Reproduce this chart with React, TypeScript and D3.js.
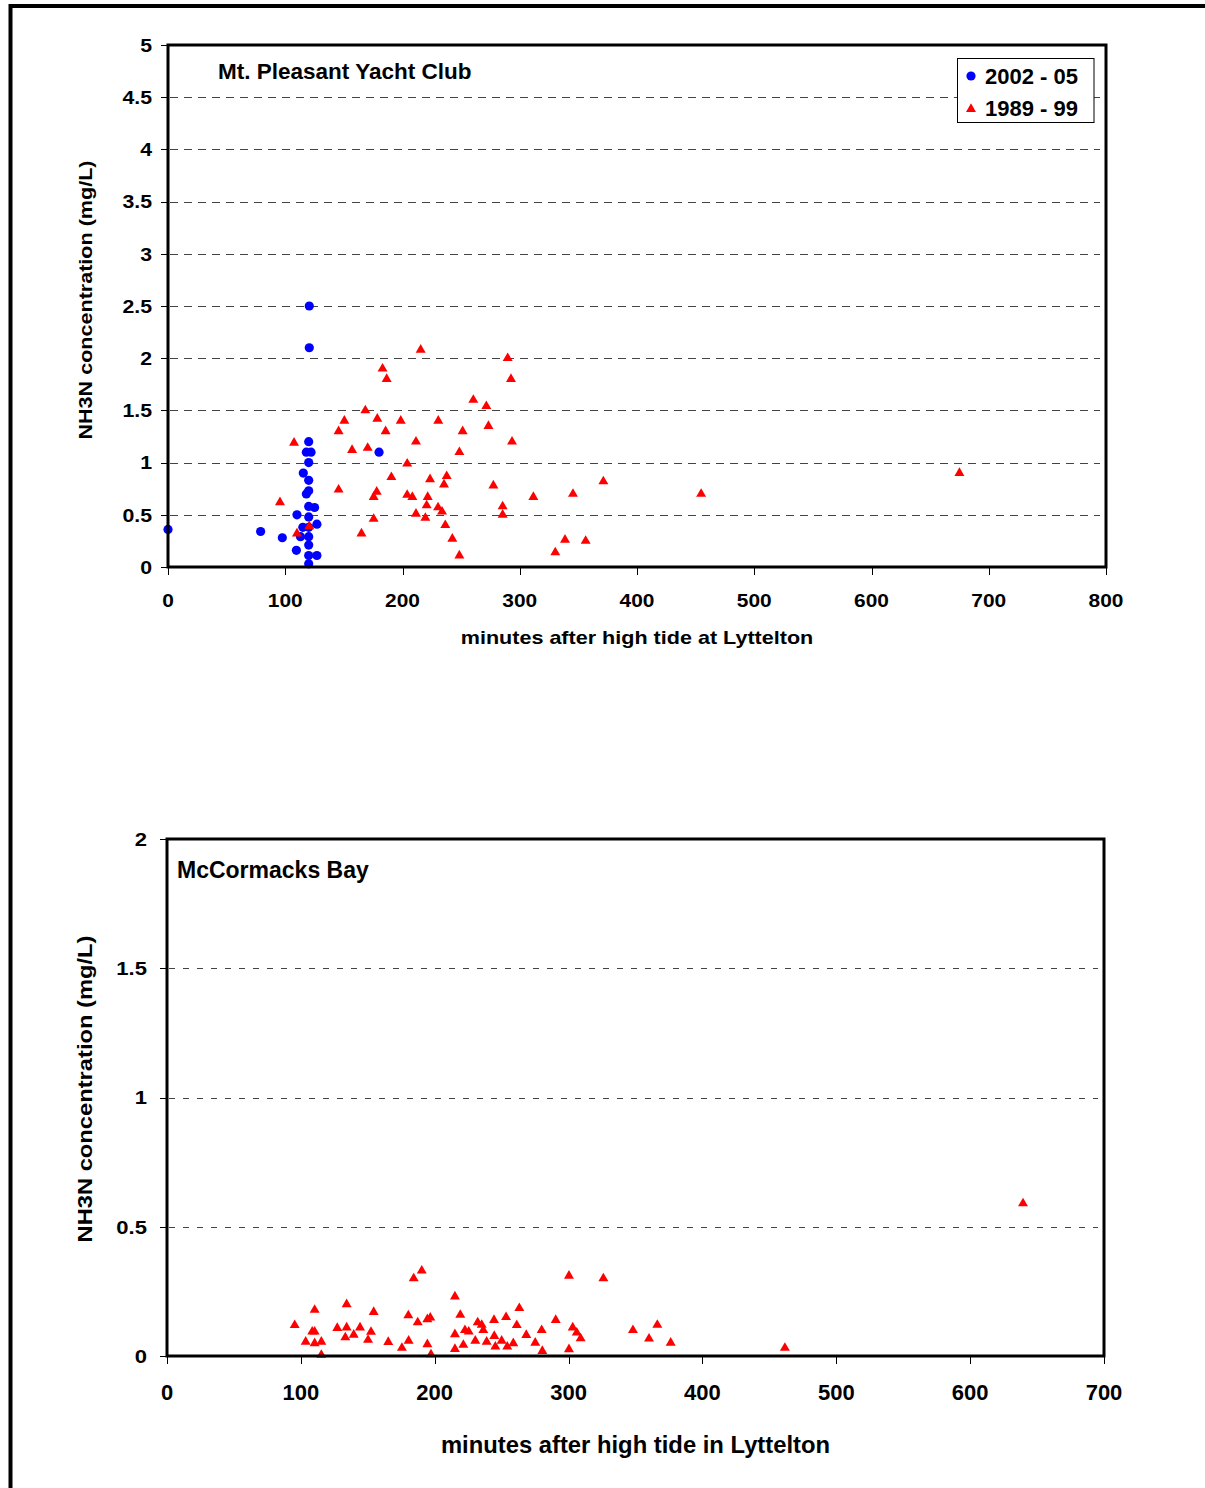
import React from 'react';
import * as d3 from 'd3';

const W = 1205;
const H = 1488;
const FONT = '"Liberation Sans", Arial, sans-serif';

// Mt. Pleasant Yacht Club, 2002 - 05 samples
const mpRecentMinutes = [0, 79, 97.5, 110, 109.5, 113, 120, 115.4, 118, 122, 120.5, 120.5, 120, 120, 120, 118, 120, 120, 125, 120, 127, 115, 120, 120, 120, 127, 120, 180];
const mpRecentConc = [0.36, 0.34, 0.28, 0.5, 0.16, 0.29, 0.29, 0.9, 1.1, 1.1, 2.5, 2.1, 1.2, 1.0, 0.83, 0.7, 0.73, 0.58, 0.57, 0.48, 0.41, 0.38, 0.38, 0.21, 0.11, 0.11, 0.03, 1.1];

// Mt. Pleasant Yacht Club, 1989 - 99 samples
const mpOldMinutes = [107.5, 95.5, 110, 120.5, 145.5, 150.4, 145.5, 157, 168.3, 170.3, 178.5, 183, 186.5, 185.6, 198.5, 165, 175.4, 175.4, 178, 190.5, 204, 204, 215.5, 289.7, 292.5, 260.4, 271.5, 230.5, 251.3, 273.3, 211.5, 293.4, 248.5, 223.5, 237.7, 235.4, 208.4, 221.5, 220.6, 230.3, 233.7, 211.5, 219.5, 236.5, 242.5, 248.5, 277.5, 285.4, 285.4, 311.6, 345.4, 371.3, 330.3, 338.6, 356.2, 454.7, 675];
const mpOldConc = [1.19, 0.62, 0.32, 0.39, 1.3, 1.4, 0.74, 1.12, 1.5, 1.14, 1.42, 1.9, 1.8, 1.3, 1.4, 0.32, 0.46, 0.67, 0.72, 0.86, 0.99, 0.69, 2.08, 2.0, 1.8, 1.6, 1.54, 1.4, 1.3, 1.35, 1.2, 1.2, 1.1, 0.84, 0.87, 0.79, 0.67, 0.67, 0.59, 0.57, 0.53, 0.51, 0.47, 0.4, 0.27, 0.11, 0.78, 0.58, 0.5, 0.67, 0.7, 0.82, 0.14, 0.26, 0.25, 0.7, 0.9];

// McCormacks Bay, 1989 - 99 samples
const mcMinutes = [95.4, 110.3, 103.6, 108.5, 110.3, 110.3, 115.3, 115.3, 127.2, 134.2, 134.2, 133.2, 139.5, 144.2, 152.4, 150.2, 154.4, 165.3, 175.5, 180.3, 180.5, 184.3, 190.3, 187.3, 194.5, 196.7, 194.5, 197.2, 215.1, 219.1, 215.1, 222.6, 225.4, 215.1, 221.4, 230.3, 232.1, 235.1, 236.3, 238.8, 244.3, 244.5, 250, 245.3, 253.3, 254.2, 258.7, 263.2, 261.3, 268.4, 275.1, 279.9, 280.4, 290.4, 300.3, 300.3, 303.1, 306.1, 309, 326, 348.1, 366.3, 360.1, 376.3, 461.6, 639.5];
const mcConc = [0.119, 0.178, 0.055, 0.094, 0.094, 0.049, 0.055, 0.004, 0.108, 0.2, 0.11, 0.072, 0.082, 0.11, 0.093, 0.062, 0.17, 0.054, 0.031, 0.157, 0.059, 0.3, 0.33, 0.13, 0.142, 0.148, 0.045, 0.006, 0.23, 0.159, 0.084, 0.1, 0.094, 0.027, 0.043, 0.059, 0.13, 0.12, 0.1, 0.055, 0.139, 0.077, 0.059, 0.036, 0.15, 0.036, 0.049, 0.185, 0.119, 0.081, 0.051, 0.1, 0.019, 0.139, 0.31, 0.026, 0.11, 0.09, 0.068, 0.3, 0.1, 0.12, 0.067, 0.051, 0.031, 0.59];

const topXTicks = [0, 100, 200, 300, 400, 500, 600, 700, 800];
const topYTicks = [0, 0.5, 1, 1.5, 2, 2.5, 3, 3.5, 4, 4.5, 5];
const bottomXTicks = [0, 100, 200, 300, 400, 500, 600, 700];
const bottomYTicks = [0, 0.5, 1, 1.5, 2];

const legendLabels = ['2002 - 05', '1989 - 99'];

const circlePath = d3.symbol(d3.symbolCircle, Math.PI * 4.6 * 4.6)();
const trianglePath = d3.symbol(d3.symbolTriangle, 43)();

// stretched bold text, the original chart had its fonts squeezed wider
function SText({ x, y, size, sx = 1, rotate = 0, anchor = 'start', children }) {
  return (
    <text
      transform={`translate(${x},${y}) rotate(${rotate}) scale(${sx},1)`}
      fontSize={size}
      fontWeight="bold"
      fontFamily={FONT}
      textAnchor={anchor}
      fill="#000"
    >
      {children}
    </text>
  );
}

function Panel({ box, xMax, yMax, xTicks, yTicks, dash, series, text }) {
  const xScale = d3.scaleLinear().domain([0, xMax]).range([box.left, box.right]);
  const yScale = d3.scaleLinear().domain([0, yMax]).range([box.bottom, box.top]);
  const midX = (box.left + box.right) / 2;

  return (
    <g>
      {/* dashed gridlines */}
      {yTicks.filter((t) => t > 0 && t < yMax).map((t) => (
        <line
          key={'g' + t}
          x1={box.left + 2}
          x2={box.right - 6}
          y1={Math.round(yScale(t)) + 0.5}
          y2={Math.round(yScale(t)) + 0.5}
          stroke="#444"
          strokeWidth={1}
          strokeDasharray={dash}
        />
      ))}

      {/* tick marks */}
      {yTicks.map((t) => (
        <line key={'yt' + t} x1={box.left - 7} x2={box.left} y1={Math.round(yScale(t)) + 0.5} y2={Math.round(yScale(t)) + 0.5} stroke="#000" />
      ))}
      {xTicks.map((t) => (
        <line key={'xt' + t} x1={Math.round(xScale(t)) + 0.5} x2={Math.round(xScale(t)) + 0.5} y1={box.bottom} y2={box.bottom + 8} stroke="#000" />
      ))}

      {/* tick labels */}
      {yTicks.map((t) => (
        <SText key={'yl' + t} x={box.left - text.yLabelGap} y={yScale(t) + text.yLabelSize * 0.36} size={text.yLabelSize} sx={text.yLabelSx} anchor="end">
          {String(t)}
        </SText>
      ))}
      {xTicks.map((t) => (
        <SText key={'xl' + t} x={xScale(t)} y={box.bottom + text.xLabelGap} size={text.xLabelSize} sx={text.xLabelSx} anchor="middle">
          {String(t)}
        </SText>
      ))}

      {/* markers, older series drawn last */}
      {series.map((s, si) => (
        <g key={'s' + si} fill={s.color}>
          {s.minutes.map((m, i) => (
            <path key={i} d={s.shape} transform={`translate(${xScale(m)},${yScale(s.conc[i])})`} />
          ))}
        </g>
      ))}

      {/* plot frame */}
      <rect
        x={box.left}
        y={box.top}
        width={box.right - box.left}
        height={box.bottom - box.top}
        fill="none"
        stroke="#000"
        strokeWidth={3}
      />

      {/* titles */}
      <SText x={text.titleX} y={text.titleY} size={text.titleSize}>{text.title}</SText>
      <SText x={midX} y={text.xTitleY} size={text.xTitleSize} sx={text.xTitleSx} anchor="middle">
        {text.xTitle}
      </SText>
      <SText x={text.yTitleX} y={text.yTitleY} size={text.yTitleSize} sx={text.yTitleSx} rotate={-90} anchor="middle">
        NH3N concentration (mg/L)
      </SText>
    </g>
  );
}

export default function App() {
  const blue = '#0000ff';
  const red = '#ff0000';

  return (
    <svg
      width={W}
      height={H}
      viewBox={`0 0 ${W} ${H}`}
      style={{ position: 'absolute', left: 0, top: 0, background: '#fff' }}
    >
      <rect x={0} y={0} width={W} height={H} fill="#fff" />

      {/* outer frame, cut off at right and bottom */}
      <path d={`M10.5,${H} V6 H${W}`} fill="none" stroke="#000" strokeWidth={4} />

      <Panel
        box={{ left: 168, right: 1106, top: 45, bottom: 567 }}
        xMax={800}
        yMax={5}
        xTicks={topXTicks}
        yTicks={topYTicks}
        dash="8,6"
        series={[
          { minutes: mpRecentMinutes, conc: mpRecentConc, color: blue, shape: circlePath },
          { minutes: mpOldMinutes, conc: mpOldConc, color: red, shape: trianglePath },
        ]}
        text={{
          yLabelGap: 16, yLabelSize: 19, yLabelSx: 1.12,
          xLabelGap: 40, xLabelSize: 19, xLabelSx: 1.1,
          title: 'Mt. Pleasant Yacht Club', titleX: 218, titleY: 79, titleSize: 22.5,
          xTitle: 'minutes after high tide at Lyttelton', xTitleY: 644, xTitleSize: 18.6, xTitleSx: 1.16,
          yTitleX: 92, yTitleY: 300, yTitleSize: 18.6, yTitleSx: 1.16,
        }}
      />

      {/* legend */}
      <g>
        <rect x={957.5} y={58.5} width={136.5} height={64} fill="#fff" stroke="#000" strokeWidth={1} />
        <path d={circlePath} transform="translate(971,76)" fill={blue} />
        <path d={trianglePath} transform="translate(971,109)" fill={red} />
        <SText x={985} y={84} size={22}>{legendLabels[0]}</SText>
        <SText x={985} y={116} size={22}>{legendLabels[1]}</SText>
      </g>

      <Panel
        box={{ left: 167, right: 1104, top: 839, bottom: 1356 }}
        xMax={700}
        yMax={2}
        xTicks={bottomXTicks}
        yTicks={bottomYTicks}
        dash="6,8"
        series={[{ minutes: mcMinutes, conc: mcConc, color: red, shape: trianglePath }]}
        text={{
          yLabelGap: 20, yLabelSize: 19, yLabelSx: 1.16,
          xLabelGap: 44, xLabelSize: 22, xLabelSx: 1,
          title: 'McCormacks Bay', titleX: 177, titleY: 878, titleSize: 23,
          xTitle: 'minutes after high tide in Lyttelton', xTitleY: 1453, xTitleSize: 23.8, xTitleSx: 1,
          yTitleX: 92, yTitleY: 1089, yTitleSize: 21, yTitleSx: 1.13,
        }}
      />
    </svg>
  );
}
